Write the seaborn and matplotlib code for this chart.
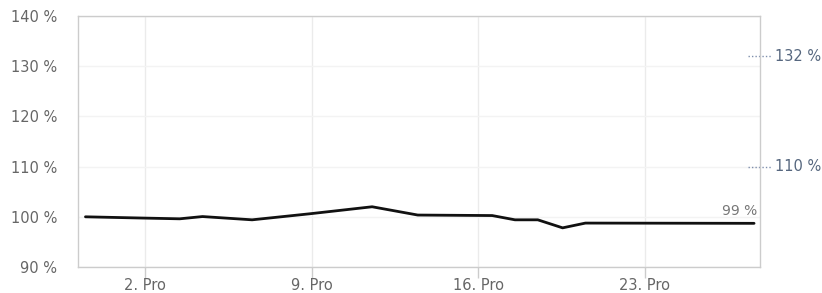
import matplotlib
matplotlib.use("Agg")
import matplotlib.pyplot as plt
import matplotlib.transforms as mtransforms
import pandas as pd
import seaborn as sns

# index value (%) over December
timestamps = [
    "2023-11-29 12:00", "2023-12-01 22:00", "2023-12-03 11:00", "2023-12-04 10:00",
    "2023-12-06 12:00", "2023-12-08 22:00", "2023-12-11 13:00", "2023-12-13 11:00",
    "2023-12-16 14:00", "2023-12-17 13:00", "2023-12-18 12:00", "2023-12-19 13:00",
    "2023-12-20 12:00", "2023-12-27 14:00",
]
values = [100.0, 99.75, 99.6, 100.05, 99.4, 100.6, 102.0, 100.35,
          100.25, 99.4, 99.4, 97.8, 98.75, 98.7]

tick_dates = ["2023-12-02", "2023-12-09", "2023-12-16", "2023-12-23"]
tick_labels = ["2. Pro", "9. Pro", "16. Pro", "23. Pro"]
y_ticks = [90, 100, 110, 120, 130, 140]

ref_levels = [132, 110]
ref_labels = ["132 %", "110 %"]
last_label = "99 %"

df = pd.DataFrame({"time": pd.to_datetime(timestamps), "value": values})

sns.set_style("white")
plt.rcParams["font.family"] = ["DejaVu Sans"]

fig = plt.figure(figsize=(8.22, 2.93), dpi=100)
ax = fig.add_axes([0.0949, 0.0887, 0.8297, 0.8567])

sns.lineplot(data=df, x="time", y="value", ax=ax, color="#111111", linewidth=2)

ax.set_xlim(pd.Timestamp("2023-11-29 04:30"), pd.Timestamp("2023-12-27 20:00"))
ax.set_ylim(90, 140)
ax.set_xticks(pd.to_datetime(tick_dates))
ax.set_xticklabels(tick_labels)
ax.set_yticks(y_ticks)
ax.set_yticklabels([f"{v} %" for v in y_ticks])
ax.set_xlabel("")
ax.set_ylabel("")

ax.grid(axis="x", color="#ebebeb", linewidth=1)
ax.grid(axis="y", color="#f3f3f3", linewidth=1)
ax.set_axisbelow(True)
for s in ax.spines.values():
    s.set_color("#cccccc")
    s.set_linewidth(1)

ax.tick_params(axis="x", length=8, width=1, color="#cccccc", labelsize=10.5,
               labelcolor="#666666", pad=0)
ax.tick_params(axis="y", length=0, labelsize=10.5, labelcolor="#666666", pad=15)
ax.tick_params(axis="x", bottom=True)

# reference level labels on the right
trans = mtransforms.blended_transform_factory(ax.transAxes, ax.transData)
for lvl, lab in zip(ref_levels, ref_labels):
    ax.plot([0.982, 1.018], [lvl, lvl], transform=trans, clip_on=False,
            color="#7f8fad", linestyle=(0, (1, 1.5)), linewidth=1)
    ax.text(1.022, lvl, lab, transform=trans, ha="left", va="center",
            fontsize=10.5, color="#56677f")

# last value label
ax.annotate(last_label, xy=(df["time"].iloc[-1], df["value"].iloc[-1]),
            xytext=(2, 3.5), textcoords="offset points", ha="right", va="bottom",
            fontsize=10, color="#777777")

fig.savefig("out.png", dpi=100)
